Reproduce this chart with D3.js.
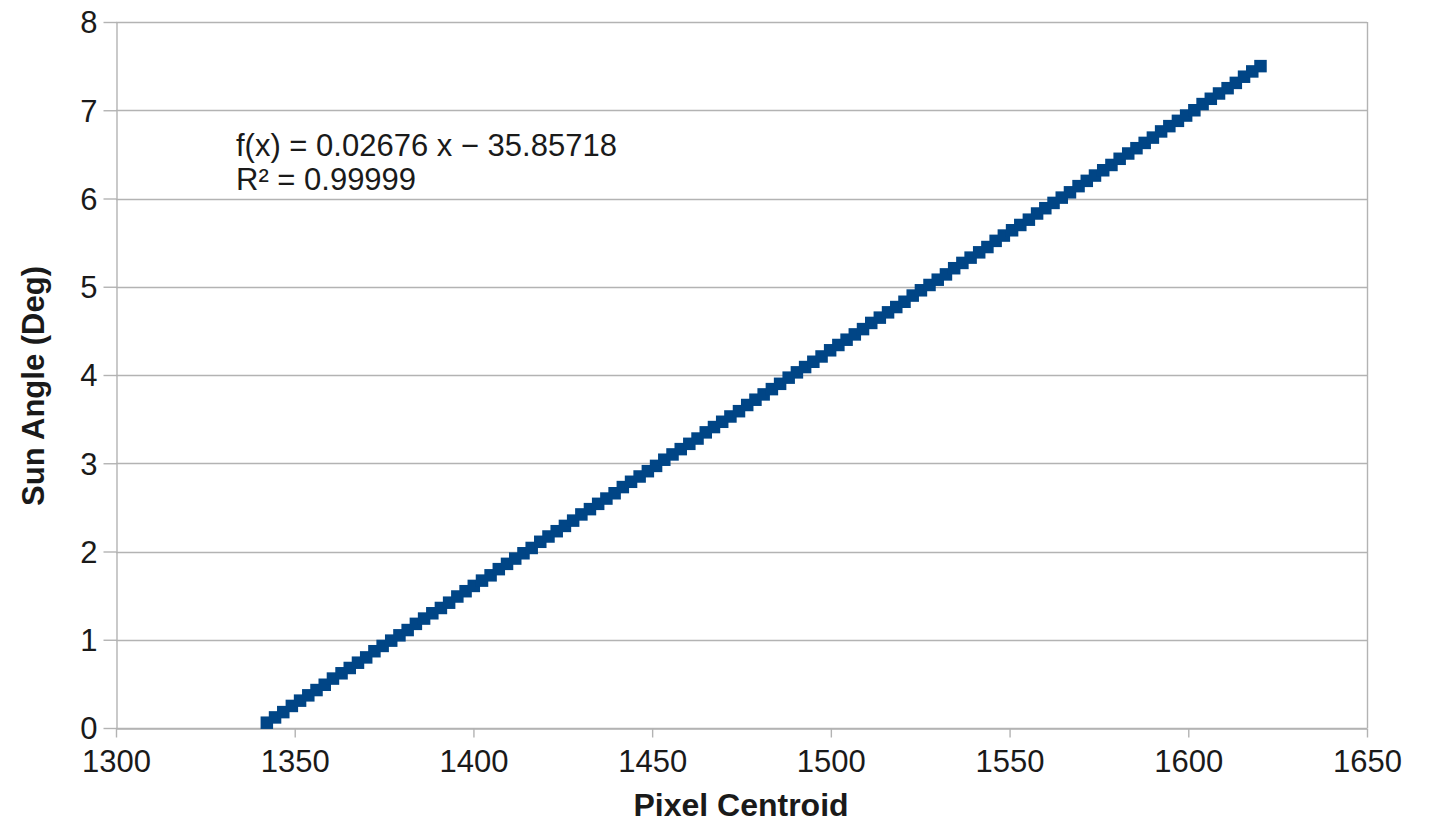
<!DOCTYPE html>
<html><head><meta charset="utf-8">
<script src="https://cdn.jsdelivr.net/npm/d3@7"></script>
<style>body{margin:0;background:#fff}svg{display:block}text{font-family:"Liberation Sans",Arial,sans-serif}</style>
</head><body><svg id="c" width="1432" height="822"></svg>
<script>
const pixelCentroid = [1342.2,1344.5,1346.8,1349.2,1351.5,1353.8,1356.1,1358.4,1360.7,1363.1,1365.4,1367.7,1370.0,1372.3,1374.6,1377.0,1379.3,1381.6,1383.9,1386.2,1388.5,1390.9,1393.2,1395.5,1397.8,1400.1,1402.4,1404.8,1407.1,1409.4,1411.7,1414.0,1416.3,1418.7,1421.0,1423.3,1425.6,1427.9,1430.2,1432.6,1434.9,1437.2,1439.5,1441.8,1444.1,1446.5,1448.8,1451.1,1453.4,1455.7,1458.0,1460.4,1462.7,1465.0,1467.3,1469.6,1471.9,1474.3,1476.6,1478.9,1481.2,1483.5,1485.8,1488.2,1490.5,1492.8,1495.1,1497.4,1499.8,1502.1,1504.4,1506.7,1509.0,1511.3,1513.7,1516.0,1518.3,1520.6,1522.9,1525.2,1527.6,1529.9,1532.2,1534.5,1536.8,1539.1,1541.5,1543.8,1546.1,1548.4,1550.7,1553.0,1555.4,1557.7,1560.0,1562.3,1564.6,1566.9,1569.3,1571.6,1573.9,1576.2,1578.5,1580.8,1583.2,1585.5,1587.8,1590.1,1592.4,1594.7,1597.1,1599.4,1601.7,1604.0,1606.3,1608.6,1611.0,1613.3,1615.6,1617.9,1620.2];
const sunAngle = [0.06,0.12,0.18,0.25,0.31,0.37,0.43,0.49,0.56,0.62,0.68,0.74,0.80,0.87,0.93,0.99,1.05,1.11,1.18,1.24,1.30,1.36,1.42,1.49,1.55,1.61,1.67,1.73,1.80,1.86,1.92,1.98,2.04,2.11,2.17,2.23,2.29,2.35,2.42,2.48,2.54,2.60,2.66,2.73,2.79,2.85,2.91,2.97,3.04,3.10,3.16,3.22,3.28,3.35,3.41,3.47,3.53,3.59,3.66,3.72,3.78,3.84,3.90,3.97,4.03,4.09,4.15,4.21,4.28,4.34,4.40,4.46,4.52,4.59,4.65,4.71,4.77,4.83,4.90,4.96,5.02,5.08,5.14,5.21,5.27,5.33,5.39,5.45,5.52,5.58,5.64,5.70,5.76,5.83,5.89,5.95,6.01,6.07,6.14,6.20,6.26,6.32,6.38,6.45,6.51,6.57,6.63,6.69,6.76,6.82,6.88,6.94,7.00,7.07,7.13,7.19,7.25,7.31,7.38,7.44,7.50];
const xTicks = [1300,1350,1400,1450,1500,1550,1600,1650];
const yTicks = [0,1,2,3,4,5,6,7,8];
const equationLines = ["f(x) = 0.02676 x \u2212 35.85718", "R\u00B2 = 0.99999"];
const xTitle = "Pixel Centroid";
const yTitle = "Sun Angle (Deg)";

const svg = d3.select("#c");
const L = 116, R = 1367, T = 22, B = 728;
const x = d3.scaleLinear().domain([1300,1650]).range([L,R]);
const y = d3.scaleLinear().domain([0,8]).range([B,T]);
const grid = "#b3b3b3";
const ink = "#1a1a1a";

svg.append("g").selectAll("line").data(yTicks).join("line")
  .attr("x1",L).attr("x2",R).attr("y1",d=>Math.round(y(d))+0.5).attr("y2",d=>Math.round(y(d))+0.5)
  .attr("stroke",grid).attr("stroke-width",1.4);
svg.append("line").attr("x1",Math.round(R)+0.5).attr("x2",Math.round(R)+0.5).attr("y1",T).attr("y2",B)
  .attr("stroke",grid).attr("stroke-width",1.4);

const xAxis = d3.axisBottom(x).tickValues(xTicks).tickFormat(d3.format("d")).tickSize(9).tickSizeOuter(0).tickPadding(13);
const gx = svg.append("g").attr("transform",`translate(0,${Math.round(B)+0.5})`).call(xAxis);
const yAxis = d3.axisLeft(y).tickValues(yTicks).tickFormat(d3.format("d")).tickSize(13).tickSizeOuter(0).tickPadding(6);
const gy = svg.append("g").attr("transform",`translate(${L+0.5},0)`).call(yAxis);
[gx,gy].forEach(g=>{
  g.attr("font-size",31).attr("font-family","Liberation Sans, Arial, sans-serif");
  g.selectAll("path,line").attr("stroke",grid).attr("stroke-width",1.4);
  g.selectAll("text").attr("fill",ink);
});
gx.selectAll("text").attr("dy","0.71em").attr("y",9+12);
gy.selectAll("text").attr("dy","0.35em");

const pts = pixelCentroid.map((v,i)=>({x:v,y:sunAngle[i]}));
const ms = 12.5;
svg.append("g").selectAll("rect").data(pts).join("rect")
  .attr("x",d=>x(d.x)-ms/2).attr("y",d=>y(d.y)-ms/2).attr("width",ms).attr("height",ms)
  .attr("fill","#004586");

svg.append("g").selectAll("text").data(equationLines).join("text")
  .attr("x",236).attr("y",(d,i)=>156+i*34).attr("font-size",31).attr("fill",ink).text(d=>d);

svg.append("text").attr("x",741).attr("y",816).attr("text-anchor","middle")
  .attr("font-size",32).attr("font-weight","bold").attr("fill",ink).text(xTitle);
svg.append("text").attr("transform",`translate(44,386) rotate(-90)`).attr("text-anchor","middle")
  .attr("font-size",31).attr("font-weight","bold").attr("fill",ink).text(yTitle);
</script></body></html>
